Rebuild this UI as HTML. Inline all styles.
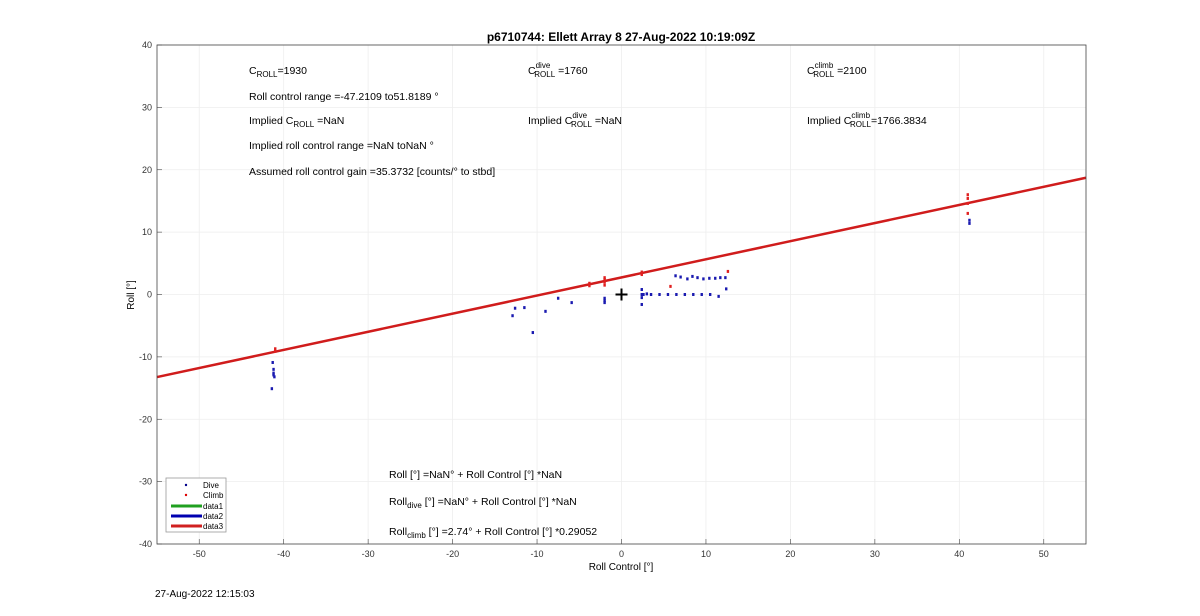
<!DOCTYPE html>
<html><head><meta charset="utf-8"><style>
body{margin:0;background:#fff;font-family:"Liberation Sans",sans-serif;}
svg text{font-family:"Liberation Sans",sans-serif;}
</style></head><body>
<svg id="c" width="1200" height="611" xmlns="http://www.w3.org/2000/svg">
<rect width="1200" height="611" fill="#fff"/>
<g id="grid"></g><g id="marks"></g><g id="axes"></g>
<text x="621" y="41" text-anchor="middle" font-size="12" font-weight="bold">p6710744: Ellett Array 8 27-Aug-2022 10:19:09Z</text>
<text x="621" y="570" text-anchor="middle" font-size="10">Roll Control [°]</text>
<text x="134" y="295" text-anchor="middle" font-size="10" transform="rotate(-90 134 295)">Roll [°]</text>
<text x="155" y="597" font-size="10">27-Aug-2022 12:15:03</text>
<g font-size="10.5">
<text x="249" y="74">C<tspan font-size="8" dy="3">ROLL</tspan><tspan dy="-3">=1930</tspan></text>
<text x="249" y="100">Roll control range =-47.2109 to51.8189 °</text>
<text x="249" y="124">Implied C<tspan font-size="8" dy="3">ROLL</tspan><tspan dy="-3"> =NaN</tspan></text>
<text x="249" y="149">Implied roll control range =NaN toNaN °</text>
<text x="249" y="175">Assumed roll control gain =35.3732 [counts/° to stbd]</text>
<text x="528" y="74">C<tspan font-size="8" dy="-6">dive</tspan><tspan font-size="8" dx="-16" dy="9">ROLL</tspan><tspan dy="-3"> =1760</tspan></text>
<text x="528" y="124">Implied C<tspan font-size="8" dy="-6">dive</tspan><tspan font-size="8" dx="-16" dy="9">ROLL</tspan><tspan dy="-3"> =NaN</tspan></text>
<text x="807" y="74">C<tspan font-size="8" dy="-6">climb</tspan><tspan font-size="8" dx="-20" dy="9">ROLL</tspan><tspan dy="-3"> =2100</tspan></text>
<text x="807" y="124">Implied C<tspan font-size="8" dy="-6">climb</tspan><tspan font-size="8" dx="-20" dy="9">ROLL</tspan><tspan dy="-3">=1766.3834</tspan></text>
<text x="389" y="478">Roll [°] =NaN° + Roll Control [°] *NaN</text>
<text x="389" y="505">Roll<tspan font-size="8" dy="3">dive</tspan><tspan dy="-3"> [°] =NaN° + Roll Control [°] *NaN</tspan></text>
<text x="389" y="535">Roll<tspan font-size="8" dy="3">climb</tspan><tspan dy="-3"> [°] =2.74° + Roll Control [°] *0.29052</tspan></text>
</g>
<g>
<rect x="166" y="478" width="60" height="54" fill="#fff" stroke="#999" stroke-width="0.8"/>
<circle cx="186" cy="485" r="1.2" fill="#00008b"/><text x="203" y="488" font-size="8">Dive</text>
<circle cx="186" cy="495" r="1.2" fill="#d00"/><text x="203" y="498" font-size="8">Climb</text>
<line x1="171" x2="202" y1="506" y2="506" stroke="#20a020" stroke-width="3"/><text x="203" y="509" font-size="8">data1</text>
<line x1="171" x2="202" y1="516" y2="516" stroke="#0000b0" stroke-width="3"/><text x="203" y="519" font-size="8">data2</text>
<line x1="171" x2="202" y1="526" y2="526" stroke="#d02020" stroke-width="3"/><text x="203" y="529" font-size="8">data3</text>
</g>
</svg>
<script>
const xTicks=[-50,-40,-30,-20,-10,0,10,20,30,40,50];
const yTicks=[-40,-30,-20,-10,0,10,20,30,40];
const diveX=[-41.4,-41.2,-41.2,-41.1,-41.3,-41.2,-12.9,-12.6,-11.5,-10.5,-9,-7.5,-5.9,-2,-2,-2,2.4,2.4,2.4,2.4,2.6,3,3.5,4.5,5.5,6.5,7.5,8.5,9.5,10.5,11.5,12.4,6.4,7,7.8,8.4,9,9.7,10.4,11.1,11.7,12.3,41.2,41.2];
const diveY=[-15.1,-12,-12.6,-13.2,-10.9,-12.9,-3.4,-2.2,-2.1,-6.1,-2.7,-0.6,-1.3,-0.6,-1,-1.3,0.8,0,-0.5,-1.6,0,0.1,0,0,0,0,0,0,0,0,-0.3,0.9,3,2.8,2.5,2.9,2.7,2.5,2.6,2.6,2.7,2.7,11.4,11.9];
const climbX=[-41,-41,-3.8,-3.8,-2,-2,-2,-2,2.4,2.4,5.8,12.6,41,41,41,41];
const climbY=[-9.1,-8.7,1.4,1.8,1.5,2,2.4,2.7,3.2,3.6,1.3,3.7,14.6,15.4,16,13];
const fitIntercept=2.74, fitSlope=0.29052;
const X0=157,X1=1086,Y0=544,Y1=45,xmin=-55,xmax=55,ymin=-40,ymax=40;
const sx=v=>X0+(v-xmin)/(xmax-xmin)*(X1-X0);
const sy=v=>Y0-(v-ymin)/(ymax-ymin)*(Y0-Y1);
const NS='http://www.w3.org/2000/svg';
function mk(t,a,p){const e=document.createElementNS(NS,t);for(const k in a)e.setAttribute(k,a[k]);p.appendChild(e);return e;}
const g=document.getElementById('grid'),m=document.getElementById('marks'),ax=document.getElementById('axes');
xTicks.forEach(v=>{const l=mk('line',{x1:sx(v),x2:sx(v),y1:Y1,y2:Y0,stroke:'#eeeeee','stroke-width':0.8},g);

const t=mk('text',{x:sx(v),y:Y0+13,'text-anchor':'middle','font-size':9,fill:'#333'},ax);t.textContent=v;

mk('line',{x1:sx(v),x2:sx(v),y1:Y0,y2:Y0-5,stroke:'#444','stroke-width':0.6},ax);});
yTicks.forEach(v=>{const l=mk('line',{x1:X0,x2:X1,y1:sy(v),y2:sy(v),stroke:'#eeeeee','stroke-width':0.8},g);

const t=mk('text',{x:X0-5,y:sy(v)+3,'text-anchor':'end','font-size':9,fill:'#333'},ax);t.textContent=v;

mk('line',{x1:X0,x2:X0+5,y1:sy(v),y2:sy(v),stroke:'#444','stroke-width':0.6},ax);});
const fr=mk('rect',{x:X0,y:Y1,width:X1-X0,height:Y0-Y1,fill:'none',stroke:'#444','stroke-width':0.8},ax);

const fl=mk('line',{x1:sx(xmin),y1:sy(fitIntercept+fitSlope*xmin),x2:sx(xmax),y2:sy(fitIntercept+fitSlope*xmax),stroke:'#d01c1c','stroke-width':2.5},m);

diveX.forEach((x,i)=>{const c=mk('rect',{x:sx(x)-1.2,y:sy(diveY[i])-1.5,width:2.4,height:3,fill:'#1a1ab0'},m);
});
climbX.forEach((x,i)=>{const c=mk('rect',{x:sx(x)-1.2,y:sy(climbY[i])-1.5,width:2.4,height:3,fill:'#e02020'},m);
});
const p=mk('path',{d:`M${sx(0)-6},${sy(0)}h12M${sx(0)},${sy(0)-6}v12`,stroke:'#000','stroke-width':2},m);

</script>
</body></html>
